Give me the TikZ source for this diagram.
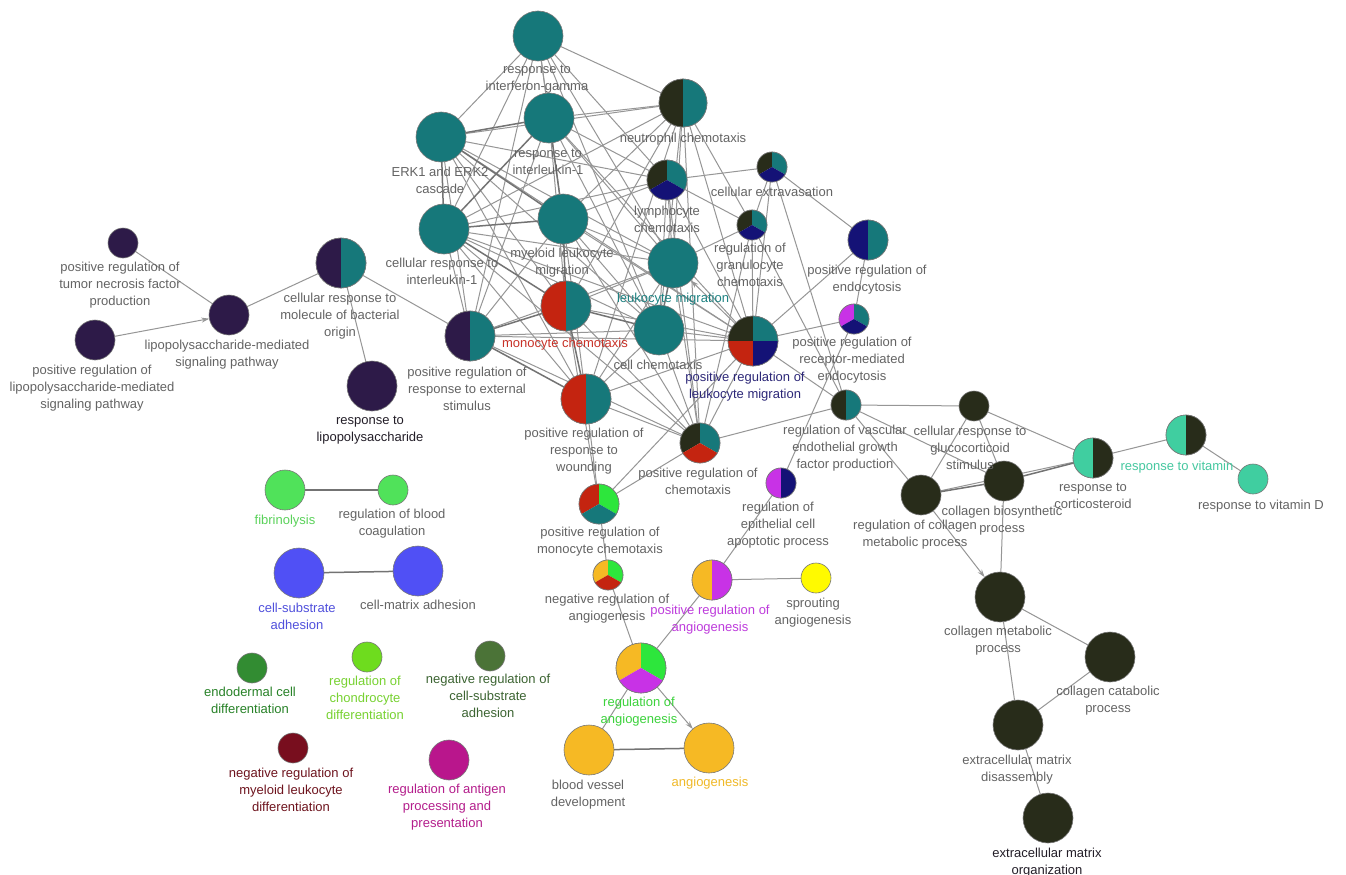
\documentclass[tikz,border=0pt]{standalone}
\usepackage{fontspec}
\setmainfont{Liberation Sans}
\usetikzlibrary{arrows.meta}
\definecolor{cteal}{RGB}{22,120,122}
\definecolor{cdark}{RGB}{40,44,26}
\definecolor{cnavy}{RGB}{20,18,118}
\definecolor{cred}{RGB}{196,36,16}
\definecolor{cpurple}{RGB}{45,26,72}
\definecolor{cmag}{RGB}{200,50,230}
\definecolor{cgreen}{RGB}{45,230,60}
\definecolor{caqua}{RGB}{64,206,160}
\definecolor{corange}{RGB}{246,185,36}
\definecolor{cyellow}{RGB}{255,250,0}
\definecolor{cfib}{RGB}{80,226,90}
\definecolor{cblue}{RGB}{80,80,245}
\definecolor{cendo}{RGB}{50,140,50}
\definecolor{cchon}{RGB}{110,220,30}
\definecolor{cnrcs}{RGB}{75,115,55}
\definecolor{cdred}{RGB}{120,14,30}
\definecolor{canti}{RGB}{185,22,140}
\definecolor{labc}{RGB}{100,100,100}
\definecolor{ringc}{RGB}{120,120,120}
\definecolor{edgec}{RGB}{150,150,150}
\definecolor{edgec2}{RGB}{115,115,115}
\definecolor{tlmig}{RGB}{30,130,130}
\definecolor{tmono}{RGB}{200,50,40}
\definecolor{tprlm}{RGB}{45,40,120}
\definecolor{tblack}{RGB}{35,30,40}
\definecolor{tvit}{RGB}{70,200,160}
\definecolor{tfib}{RGB}{90,210,90}
\definecolor{tcsub}{RGB}{80,80,220}
\definecolor{tendo}{RGB}{40,130,40}
\definecolor{tchon}{RGB}{120,210,50}
\definecolor{tnrcs}{RGB}{60,100,50}
\definecolor{tnrml}{RGB}{110,20,30}
\definecolor{tanti}{RGB}{180,30,140}
\definecolor{tpra}{RGB}{190,60,220}
\definecolor{tra}{RGB}{60,210,60}
\definecolor{tangio}{RGB}{240,185,40}
\pgfdeclarelayer{background}
\pgfsetlayers{background,main}
\newcommand{\gn}[5]{\node[gnode,minimum size={2*#4},fill=#5] (#1) at (#2,-#3) {};}
\newcommand{\pn}[4]{\node[gnode,minimum size={2*#4}] (#1) at (#2,-#3) {};}
\newcommand{\sect}[5]{\fill[#5] (#1.center) -- ++(#3:#2) arc[start angle=#3, end angle=#4, radius=#2] -- cycle;}
\newcommand{\ring}[2]{\draw[draw=ringc,line width=0.6pt] (#1.center) circle[radius=#2];}
\newcommand{\halfpie}[4]{\sect{#1}{#2}{90}{270}{#3}\sect{#1}{#2}{-90}{90}{#4}\ring{#1}{#2}}
\newcommand{\tripie}[5]{\sect{#1}{#2}{90}{210}{#3}\sect{#1}{#2}{-30}{90}{#4}\sect{#1}{#2}{210}{330}{#5}\ring{#1}{#2}}
\newcommand{\lb}[5]{\node[lab,text=#4] (#1) at (#2,-#3) {#5};}
\begin{document}
\begin{tikzpicture}[x=1pt,y=1pt,
  gnode/.style={circle,inner sep=0pt,outer sep=0pt,draw=ringc,line width=0.6pt},
  lab/.style={align=center,anchor=north,inner sep=0pt,yshift=5pt,font=\fontsize{13}{17}\selectfont},
  edge/.style={draw=edgec,line width=1pt},
  tedge/.style={draw=edgec2,line width=1.5pt},
  arr/.style={-{Stealth[length=8pt,width=5pt]}}]
\useasboundingbox (0,0) rectangle (1346,-875);
% nodes
\gn{ifng}{538}{36}{25}{cteal}
\gn{erk}{441}{137}{25}{cteal}
\gn{il1}{549}{118}{25}{cteal}
\pn{neut}{683}{103}{24}
\pn{lymph}{667}{180}{20}
\pn{extrav}{772}{167}{15}
\pn{gran}{752}{225}{15}
\pn{endo}{868}{240}{20}
\pn{rme}{854}{319}{15}
\gn{cil1}{444}{229}{25}{cteal}
\gn{myel}{563}{219}{25}{cteal}
\gn{lmig}{673}{263}{25}{cteal}
\pn{bact}{341}{263}{25}
\pn{ext}{470}{336}{25}
\pn{mono}{566}{306}{25}
\gn{cchem}{659}{330}{25}{cteal}
\pn{prlm}{753}{341}{25}
\pn{wound}{586}{399}{25}
\pn{prchem}{700}{443}{20}
\pn{prmono}{599}{504}{20}
\pn{vegf}{846}{405}{15}
\pn{epi}{781}{483}{15}
\gn{tnf}{123}{243}{15}{cpurple}
\gn{lps}{229}{315}{20}{cpurple}
\gn{prlps}{95}{340}{20}{cpurple}
\gn{rlps}{372}{386}{25}{cpurple}
\gn{gluco}{974}{406}{15}{cdark}
\gn{rcm}{921}{495}{20}{cdark}
\gn{cbio}{1004}{481}{20}{cdark}
\pn{cort}{1093}{458}{20}
\pn{vit}{1186}{435}{20}
\gn{vitd}{1253}{479}{15}{caqua}
\gn{cmet}{1000}{597}{25}{cdark}
\gn{ccat}{1110}{657}{25}{cdark}
\gn{ecmd}{1018}{725}{25}{cdark}
\gn{ecmo}{1048}{818}{25}{cdark}
\gn{fib}{285}{490}{20}{cfib}
\gn{coag}{393}{490}{15}{cfib}
\gn{csub}{299}{573}{25}{cblue}
\gn{cmat}{418}{571}{25}{cblue}
\gn{endod}{252}{668}{15}{cendo}
\gn{chon}{367}{657}{15}{cchon}
\gn{nrcs}{490}{656}{15}{cnrcs}
\gn{nrml}{293}{748}{15}{cdred}
\gn{anti}{449}{760}{20}{canti}
\pn{nra}{608}{575}{15}
\pn{pra}{712}{580}{20}
\gn{sprout}{816}{578}{15}{cyellow}
\pn{ra}{641}{668}{25}
\gn{bvd}{589}{750}{25}{corange}
\gn{angio}{709}{748}{25}{corange}
% pie fills
\halfpie{neut}{24}{cdark}{cteal}
\tripie{lymph}{20}{cdark}{cteal}{cnavy}
\tripie{extrav}{15}{cdark}{cteal}{cnavy}
\tripie{gran}{15}{cdark}{cteal}{cnavy}
\halfpie{endo}{20}{cnavy}{cteal}
\tripie{rme}{15}{cmag}{cteal}{cnavy}
\halfpie{bact}{25}{cpurple}{cteal}
\halfpie{ext}{25}{cpurple}{cteal}
\halfpie{mono}{25}{cred}{cteal}
\sect{prlm}{25}{90}{180}{cdark}\sect{prlm}{25}{0}{90}{cteal}\sect{prlm}{25}{180}{270}{cred}\sect{prlm}{25}{270}{360}{cnavy}\ring{prlm}{25}
\halfpie{wound}{25}{cred}{cteal}
\tripie{prchem}{20}{cdark}{cteal}{cred}
\tripie{prmono}{20}{cred}{cgreen}{cteal}
\halfpie{vegf}{15}{cdark}{cteal}
\halfpie{epi}{15}{cmag}{cnavy}
\halfpie{cort}{20}{caqua}{cdark}
\halfpie{vit}{20}{caqua}{cdark}
\tripie{nra}{15}{corange}{cgreen}{cred}
\halfpie{pra}{20}{corange}{cmag}
\tripie{ra}{25}{corange}{cgreen}{cmag}
% edges
\begin{pgfonlayer}{background}
\fill[white] (0,0) rectangle (1346,-875);
\foreach \a/\b in {ifng/erk,ifng/il1,ifng/cil1,ifng/myel,ifng/neut,ifng/lymph,ifng/lmig,ifng/cchem,ifng/ext,
  erk/neut,erk/lymph,erk/lmig,erk/cchem,erk/mono,erk/prlm,erk/ext,erk/wound,
  il1/neut,il1/lymph,il1/lmig,il1/cchem,il1/mono,il1/prlm,il1/ext,
  neut/cil1,neut/myel,neut/lmig,neut/cchem,neut/mono,neut/prlm,neut/gran,neut/prchem,neut/wound,
  lymph/cil1,lymph/myel,lymph/lmig,lymph/cchem,lymph/extrav,lymph/prlm,lymph/prchem,lymph/gran,
  extrav/gran,extrav/prlm,extrav/endo,extrav/vegf,
  gran/prlm,gran/lmig,gran/vegf,gran/prchem,
  endo/rme,endo/prlm,rme/prlm,rme/epi,
  cil1/lmig,cil1/cchem,cil1/ext,cil1/prlm,cil1/wound,cil1/prchem,
  myel/lmig,myel/cchem,myel/prlm,myel/wound,myel/ext,myel/prchem,
  lmig/mono,lmig/ext,lmig/wound,lmig/prchem,
  cchem/prlm,cchem/wound,cchem/prchem,cchem/ext,
  mono/prlm,mono/prmono,mono/prchem,
  ext/prlm,ext/prchem,bact/ext,
  wound/prchem,wound/prlm,wound/prmono,
  prlm/prchem,prlm/vegf,prlm/prmono,prchem/vegf,prchem/prmono,
  vegf/gluco,vegf/rcm,vegf/cbio,gluco/cbio,gluco/rcm,gluco/cort,rcm/cort,
  cbio/cmet,cort/vit,vit/vitd,cmet/ccat,cmet/ecmd,ccat/ecmd,ecmd/ecmo,
  tnf/lps,lps/bact,bact/rlps,
  prmono/nra,nra/ra,pra/ra,pra/sprout,pra/epi,ra/bvd}
  \draw[edge] (\a) -- (\b);
\foreach \a/\b in {erk/il1,erk/cil1,erk/myel,il1/cil1,il1/myel,cil1/myel,cil1/mono,myel/mono,lmig/cchem,cchem/mono,
  mono/ext,mono/wound,ext/wound,rcm/cbio,cbio/cort,fib/coag,csub/cmat,bvd/angio}
  \draw[tedge] (\a) -- (\b);
\draw[edge,arr] (prlps) -- (lps);
\draw[edge,arr] (prlm) -- (lmig);
\draw[edge,arr] (rcm) -- (cmet);
\draw[edge,arr] (ra) -- (angio);
\end{pgfonlayer}
% labels
\lb{Lifng}{537}{70}{labc}{response to\\interferon-gamma}
\lb{Lerk}{440}{172}{labc}{ERK1 and ERK2\\cascade}
\lb{Lil1}{548}{154}{labc}{response to\\interleukin-1}
\lb{Lneut}{683}{138}{labc}{neutrophil chemotaxis}
\lb{Llymph}{667}{211}{labc}{lymphocyte\\chemotaxis}
\lb{Lextrav}{772}{192}{labc}{cellular extravasation}
\lb{Lgran}{750}{248}{labc}{regulation of\\granulocyte\\chemotaxis}
\lb{Lendo}{867}{270}{labc}{positive regulation of\\endocytosis}
\lb{Lrme}{852}{342}{labc}{positive regulation of\\receptor-mediated\\endocytosis}
\lb{Lcil1}{442}{263}{labc}{cellular response to\\interleukin-1}
\lb{Lmyel}{562}{253}{labc}{myeloid leukocyte\\migration}
\lb{Llmig}{673}{298}{tlmig}{leukocyte migration}
\lb{Lbact}{340}{298}{labc}{cellular response to\\molecule of bacterial\\origin}
\lb{Lext}{467}{372}{labc}{positive regulation of\\response to external\\stimulus}
\lb{Lmono}{565}{343}{tmono}{monocyte chemotaxis}
\lb{Lcchem}{658}{365}{labc}{cell chemotaxis}
\lb{Lprlm}{745}{377}{tprlm}{positive regulation of\\leukocyte migration}
\lb{Lwound}{584}{433}{labc}{positive regulation of\\response to\\wounding}
\lb{Lprchem}{698}{473}{labc}{positive regulation of\\chemotaxis}
\lb{Lprmono}{600}{532}{labc}{positive regulation of\\monocyte chemotaxis}
\lb{Lvegf}{845}{430}{labc}{regulation of vascular\\endothelial growth\\factor production}
\lb{Lepi}{778}{507}{labc}{regulation of\\epithelial cell\\apoptotic process}
\lb{Ltnf}{120}{267}{labc}{positive regulation of\\tumor necrosis factor\\production}
\lb{Llps}{227}{345}{labc}{lipopolysaccharide-mediated\\signaling pathway}
\lb{Lprlps}{92}{370}{labc}{positive regulation of\\lipopolysaccharide-mediated\\signaling pathway}
\lb{Lrlps}{370}{421}{tblack}{response to\\lipopolysaccharide}
\lb{Lgluco}{970}{431}{labc}{cellular response to\\glucocorticoid\\stimulus}
\lb{Lrcm}{915}{525}{labc}{regulation of collagen\\metabolic process}
\lb{Lcbio}{1002}{511}{labc}{collagen biosynthetic\\process}
\lb{Lcort}{1093}{488}{labc}{response to\\corticosteroid}
\lb{Lvit}{1177}{466}{tvit}{response to vitamin}
\lb{Lvitd}{1261}{505}{labc}{response to vitamin D}
\lb{Lcmet}{998}{631}{labc}{collagen metabolic\\process}
\lb{Lccat}{1108}{691}{labc}{collagen catabolic\\process}
\lb{Lecmd}{1017}{760}{labc}{extracellular matrix\\disassembly}
\lb{Lecmo}{1047}{853}{tblack}{extracellular matrix\\organization}
\lb{Lfib}{285}{520}{tfib}{fibrinolysis}
\lb{Lcoag}{392}{514}{labc}{regulation of blood\\coagulation}
\lb{Lcsub}{297}{608}{tcsub}{cell-substrate\\adhesion}
\lb{Lcmat}{418}{605}{labc}{cell-matrix adhesion}
\lb{Lendod}{250}{692}{tendo}{endodermal cell\\differentiation}
\lb{Lchon}{365}{681}{tchon}{regulation of\\chondrocyte\\differentiation}
\lb{Lnrcs}{488}{679}{tnrcs}{negative regulation of\\cell-substrate\\adhesion}
\lb{Lnrml}{291}{773}{tnrml}{negative regulation of\\myeloid leukocyte\\differentiation}
\lb{Lanti}{447}{789}{tanti}{regulation of antigen\\processing and\\presentation}
\lb{Lnra}{607}{599}{labc}{negative regulation of\\angiogenesis}
\lb{Lpra}{710}{610}{tpra}{positive regulation of\\angiogenesis}
\lb{Lsprout}{813}{603}{labc}{sprouting\\angiogenesis}
\lb{Lra}{639}{702}{tra}{regulation of\\angiogenesis}
\lb{Lbvd}{588}{785}{labc}{blood vessel\\development}
\lb{Langio}{710}{782}{tangio}{angiogenesis}
\end{tikzpicture}
\end{document}
